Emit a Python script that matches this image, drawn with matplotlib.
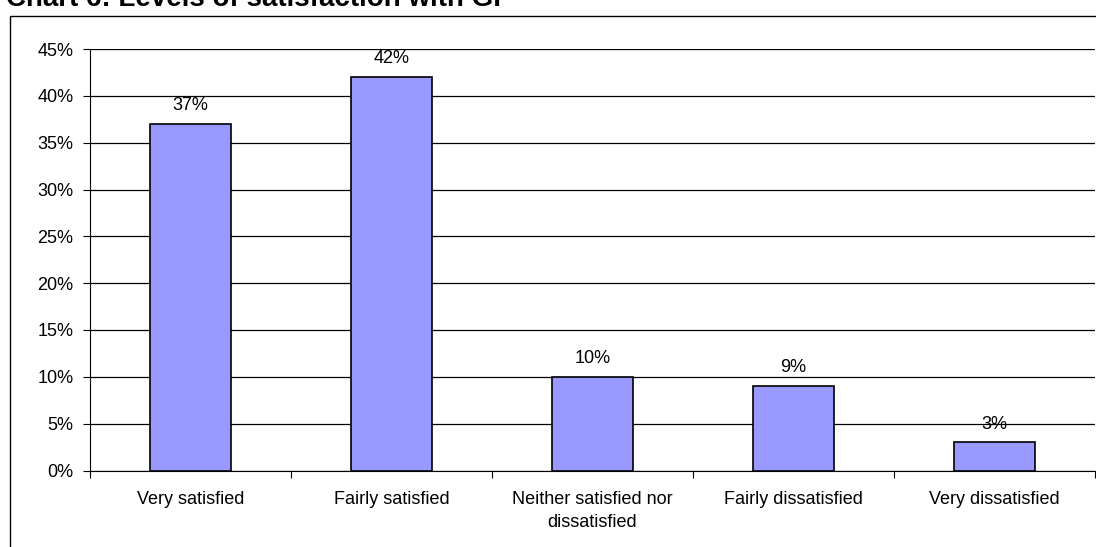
import matplotlib
matplotlib.use("Agg")
import matplotlib.pyplot as plt
import matplotlib.patches as patches
import numpy as np

plt.rcParams['font.family'] = ['Liberation Sans', 'DejaVu Sans']

# Chart data
categories = ["Very satisfied", "Fairly satisfied", "Neither satisfied nor\ndissatisfied",
              "Fairly dissatisfied", "Very dissatisfied"]
values = [37, 42, 10, 9, 3]
title = "Chart 6: Levels of satisfaction with GP"

fig = plt.figure(figsize=(10.96, 5.47), dpi=100)
ax = fig.add_axes([90 / 1096, 1 - 470.5 / 547, 1005 / 1096, (470.5 - 49) / 547])

# outer chart frame, runs off the right and bottom edge
frame = patches.Rectangle((10 / 1096, -0.1), 2, 1.1 - 15.5 / 547, transform=fig.transFigure,
                          fill=False, edgecolor='black', linewidth=1, clip_on=False)
fig.patches.append(frame)

# title sits mostly above the visible area, as in the source
fig.text(6 / 1096, 1 - 6 / 547, title, fontsize=20, fontweight='bold', va='baseline', ha='left')

x = np.arange(len(categories))
bars = ax.bar(x, values, width=0.4, color='#9999FF', edgecolor='black', linewidth=1.2, zorder=3)

for b, v in zip(bars, values):
    ax.annotate(f"{v}%", (b.get_x() + b.get_width() / 2, v), xytext=(0, 7),
                textcoords='offset points', ha='center', va='bottom', fontsize=13)

ax.set_xlim(-0.5, len(categories) - 0.5)
ax.set_ylim(0, 45)
ax.set_yticks(range(0, 46, 5))
ax.set_yticklabels([f"{t}%" for t in range(0, 46, 5)], fontsize=13)
ax.yaxis.grid(True, color='black', linewidth=0.9, zorder=0)

# category separator ticks
ax.set_xticks(np.arange(-0.5, len(categories), 1))
ax.set_xticklabels([])
ax.set_xticks(x, minor=True)
ax.set_xticklabels(categories, minor=True, fontsize=13, linespacing=1.45)
ax.tick_params(axis='x', which='minor', length=0, pad=15)
ax.tick_params(axis='x', which='major', length=5, direction='out')
ax.tick_params(axis='y', length=5, pad=7, direction='out')

ax.spines['top'].set_visible(False)
ax.spines['right'].set_visible(False)

fig.savefig("out.png", dpi=100)
